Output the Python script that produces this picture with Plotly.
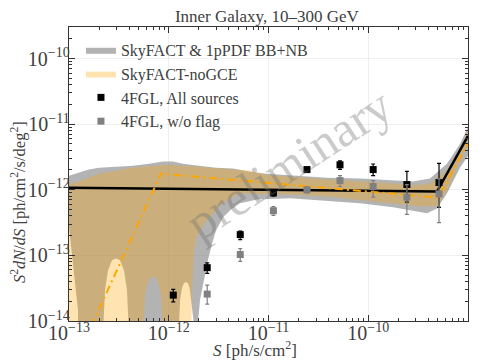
import plotly.graph_objects as go

# ---- data ----
# 4FGL counts (flux bin centres, S^2 dN/dS, errors)
S_bins = [1.11e-12, 2.43e-12, 5.21e-12, 1.12e-11, 2.43e-11, 5.21e-11, 1.12e-10, 2.44e-10, 5.12e-10]
all_src = [2.48e-14, 6.5e-14, 2.07e-13, 8.97e-13, 2.03e-12, 2.4e-12, 2.03e-12, 1.2e-12, 1.29e-12]
all_up = [0.55e-14, 1.2e-14, 0.28e-13, 1.1e-13, 1.6e-13, 3.5e-13, 4.4e-13, 7.1e-13, 1.23e-12]
all_dn = [0.52e-14, 1.2e-14, 0.33e-13, 1.0e-13, 1.6e-13, 3.5e-13, 3.9e-13, 5.5e-13, 7.5e-13]

S_noflag = [2.43e-12, 5.21e-12, 1.12e-11, 2.43e-11, 5.21e-11, 1.12e-10, 2.44e-10, 5.12e-10]
noflag = [2.57e-14, 1.03e-13, 4.79e-13, 9.96e-13, 1.38e-12, 1.12e-12, 7.7e-13, 8.66e-13]
noflag_up = [0.95e-14, 0.24e-13, 0.77e-13, 1.1e-13, 2.6e-13, 2.6e-13, 4.3e-13, 6.0e-13]
noflag_dn = [0.76e-14, 0.22e-13, 0.73e-13, 1.0e-13, 2.6e-13, 3.5e-13, 3.5e-13, 5.5e-13]

# SkyFACT & 1pPDF BB+NB band
gray_up_S = [1.0e-13, 1.26e-13, 1.58e-13, 2.0e-13, 2.96e-13, 4.38e-13, 6.34e-13, 8.75e-13, 1.10e-12,
             1.39e-12, 2.01e-12, 2.98e-12, 4.41e-12, 6.38e-12, 9.44e-12, 1.76e-11, 3.86e-11, 8.26e-11,
             1.77e-10, 2.81e-10, 4.16e-10, 6.15e-10, 8.31e-10, 1.0e-9]
gray_up = [1.64e-12, 1.82e-12, 2.03e-12, 2.17e-12, 2.25e-12, 2.33e-12, 2.5e-12, 2.7e-12, 2.7e-12,
           2.5e-12, 2.33e-12, 2.17e-12, 2.10e-12, 1.89e-12, 1.76e-12, 1.64e-12, 1.53e-12, 1.48e-12,
           1.38e-12, 1.33e-12, 1.48e-12, 2.5e-12, 5.0e-12, 9.0e-12]
gray_lo_S = [1.0e-13, 1.07e-13, 1.17e-13, 1.23e-13, 1.26e-13, 2.19e-13, 2.22e-13, 2.30e-13, 2.46e-13,
             2.70e-13, 2.96e-13, 3.24e-13, 3.56e-13, 3.81e-13, 3.94e-13, 3.95e-13, 1.26e-12, 1.27e-12,
             1.30e-12, 1.36e-12, 1.42e-12, 1.49e-12, 1.56e-12, 1.63e-12, 1.71e-12, 1.77e-12, 1.78e-12,
             1.92e-12, 1.97e-12, 2.06e-12, 2.26e-12, 2.47e-12, 2.72e-12, 2.98e-12, 3.50e-12, 4.21e-12,
             5.18e-12, 7.67e-12, 1.64e-11, 3.86e-11, 8.26e-11, 1.77e-10, 2.81e-10, 3.88e-10, 4.89e-10,
             6.15e-10, 8.31e-10, 1.0e-9]
gray_lo = [2.7e-13, 1.19e-13, 3.0e-14, 1.47e-14, 1e-16, 1e-16, 1e-14, 3.0e-14, 5.9e-14,
           8.4e-14, 9.0e-14, 8.4e-14, 5.9e-14, 3.0e-14, 1e-14, 1e-16, 1e-16, 1e-14,
           2.1e-14, 3.2e-14, 3.8e-14, 3.9e-14, 3.8e-14, 3.0e-14, 1.75e-14, 1e-14, 1e-16,
           1e-16, 1e-14, 2.1e-14, 4.2e-14, 8.4e-14, 1.53e-13, 2.4e-13, 3.8e-13, 5.0e-13,
           6.2e-13, 7.1e-13, 7.4e-13, 6.8e-13, 6.2e-13, 5.4e-13, 4.8e-13, 4.4e-13, 5.2e-13,
           8.8e-13, 2.17e-12, 3.3e-12]

# SkyFACT-noGCE band
orng_up_S = [1.0e-13, 1.17e-13, 2.0e-13, 4.38e-13, 9.38e-13, 2.01e-12, 4.41e-12, 6.38e-12, 9.44e-12,
             3.86e-11, 1.77e-10, 2.81e-10, 4.16e-10, 5.24e-10, 6.15e-10, 8.31e-10, 1.0e-9]
orng_up = [1.24e-12, 1.29e-12, 1.76e-12, 2.17e-12, 2.4e-12, 2.25e-12, 2.03e-12, 1.96e-12, 1.70e-12,
           1.43e-12, 1.24e-12, 1.16e-12, 1.24e-12, 1.64e-12, 1.96e-12, 3.9e-12, 7.9e-12]
orng_lo_S = [1.0e-13, 5.52e-13, 5.58e-13, 5.78e-13, 6.05e-13, 6.49e-13, 6.95e-13, 7.45e-13, 7.98e-13,
             8.36e-13, 8.65e-13, 8.66e-13, 1.67e-12, 1.69e-12, 1.71e-12, 1.75e-12, 1.79e-12, 1.88e-12,
             2.06e-12, 2.31e-12, 2.59e-12, 3.50e-12, 5.18e-12, 7.67e-12, 1.64e-11, 3.86e-11, 8.26e-11,
             1.77e-10, 3.30e-10, 4.89e-10, 6.15e-10, 8.31e-10, 1.0e-9]
orng_lo = [1e-16, 1e-16, 1e-14, 2.5e-14, 3.5e-14, 4.5e-14, 4.8e-14, 4.5e-14, 3.5e-14,
           2.5e-14, 1e-14, 1e-16, 1e-16, 1e-14, 3.0e-14, 7.1e-14, 1.19e-13, 1.82e-13,
           2.4e-13, 3.2e-13, 3.8e-13, 6.4e-13, 8.8e-13, 8.8e-13, 8.5e-13, 7.9e-13, 7.0e-13,
           6.2e-13, 5.6e-13, 5.6e-13, 9.7e-13, 2.8e-12, 4.7e-12]

# best-fit broken power laws
fit_S = [1.0e-13, 4.89e-10, 1.0e-9]
fit_bbnb = [1.07e-12, 9.4e-13, 6.6e-12]
nogce_S = [1.0e-13, 8.36e-13, 4.98e-10, 1.0e-9]
nogce = [1.5e-15, 1.76e-12, 7.6e-13, 5.0e-12]

FONT = "Liberation Serif"
TXT = "#404040"

fig = go.Figure()

fig.add_trace(go.Scatter(x=gray_up_S + gray_lo_S[::-1], y=gray_up + gray_lo[::-1],
                         fill="toself", fillcolor="rgba(128,128,128,0.6)", mode="lines",
                         line=dict(width=0), name="SkyFACT & 1pPDF BB+NB", hoverinfo="skip"))
fig.add_trace(go.Scatter(x=orng_up_S + orng_lo_S[::-1], y=orng_up + orng_lo[::-1],
                         fill="toself", fillcolor="rgba(255,165,0,0.3)", mode="lines",
                         line=dict(width=0), name="SkyFACT-noGCE", hoverinfo="skip"))

fig.add_trace(go.Scatter(x=fit_S, y=fit_bbnb, mode="lines", line=dict(color="black", width=2.5),
                         showlegend=False))
fig.add_trace(go.Scatter(x=nogce_S, y=nogce, mode="lines",
                         line=dict(color="orange", width=2, dash="8px,4px,2px,4px"),
                         showlegend=False))

fig.add_trace(go.Scatter(x=S_bins, y=all_src, mode="markers", name="4FGL, All sources",
                         marker=dict(symbol="square", size=7, color="black"),
                         error_y=dict(type="data", array=all_up, arrayminus=all_dn,
                                      color="black", thickness=1.2, width=2)))
fig.add_trace(go.Scatter(x=S_noflag, y=noflag, mode="markers", name="4FGL, w/o flag",
                         marker=dict(symbol="square", size=7, color="gray"),
                         error_y=dict(type="data", array=noflag_up, arrayminus=noflag_dn,
                                      color="gray", thickness=1.2, width=2)))

# watermark
fig.add_annotation(text="preliminary", xref="paper", yref="paper", x=0.55, y=0.535,
                   showarrow=False, textangle=-33,
                   font=dict(family=FONT, size=50, color="rgba(110,110,110,0.36)"))

# axis titles
fig.add_annotation(text="<i>S</i> [ph/s/cm<sup>2</sup>]", xref="paper", yref="paper",
                   x=0.466, y=-0.096, showarrow=False, yanchor="middle",
                   font=dict(family=FONT, size=17, color=TXT))
fig.add_annotation(text="<i>S</i><sup>2</sup><i>dN</i>/<i>dS</i> [ph/cm<sup>2</sup>/s/deg<sup>2</sup>]",
                   xref="paper", yref="paper", x=-0.125, y=0.405, showarrow=False,
                   textangle=-90, xanchor="center", yanchor="middle",
                   font=dict(family=FONT, size=16.5, color=TXT))

axis_style = dict(type="log", dtick=1, exponentformat="power", showline=True, linecolor="#333",
                  linewidth=1.2, mirror="allticks", ticks="inside", ticklen=6, tickcolor="#333",
                  showgrid=True, gridcolor="rgba(0,0,0,0.06)", zeroline=False, automargin=False,
                  tickfont=dict(family=FONT, size=16, color=TXT), ticklabelstandoff=-5,
                  minor=dict(ticks="inside", ticklen=3, tickcolor="#333", showgrid=False))

fig.update_xaxes(range=[-13, -9], **axis_style)
fig.update_yaxes(range=[-14, -9.52], **axis_style)

# the page body adds an 8px offset, so the figure is 8px smaller on each axis
fig.update_layout(
    width=475, height=352,
    margin=dict(l=61, r=15, t=19, b=39, autoexpand=False),
    paper_bgcolor="white", plot_bgcolor="white",
    title=dict(text="Inner Galaxy, 10–300 GeV", x=0.545, xanchor="center",
               y=0.976, yanchor="middle", font=dict(family=FONT, size=17, color=TXT)),
    legend=dict(x=0.03, y=0.98, xanchor="left", yanchor="top", bgcolor="rgba(0,0,0,0)",
                font=dict(family=FONT, size=16, color=TXT)),
    showlegend=True,
)

fig.write_html("out.html")
